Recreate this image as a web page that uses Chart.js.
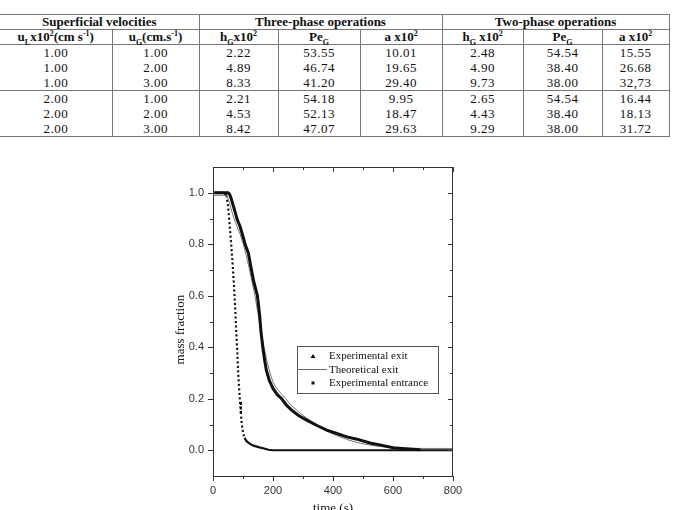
<!DOCTYPE html>
<html>
<head>
<meta charset="utf-8">
<script src="https://cdn.jsdelivr.net/npm/chart.js@4.4.0/dist/chart.umd.min.js"></script>
<style>
  html, body { margin: 0; padding: 0; background: #fff; width: 675px; height: 510px; overflow: hidden; }
  #tbl {
    position: absolute; left: 0; top: 14px; width: 669px;
    border-collapse: collapse; table-layout: fixed;
    font-family: "Liberation Serif", "Times New Roman", serif; font-size: 13px; color: #111;
  }
  #tbl th, #tbl td { padding: 0; text-align: center; border-right: 1px solid #777; white-space: nowrap; }
  #tbl th { font-weight: bold; height: 14px; line-height: 14px; }
  #tbl td { height: 15px; line-height: 15px; letter-spacing: 0.5px; }
  #tbl tr.top th { border-top: 1px solid #777; border-bottom: 1px solid #777; height: 13px; }
  #tbl tr.sub th { border-bottom: 1px solid #777; }
  #tbl tr.sep td { border-bottom: 1px solid #777; height: 14px; }
  #tbl tr.last td { border-bottom: 1px solid #777; height: 14px; }
  #tbl sub, #tbl sup { font-size: 8px; line-height: 0; }
  #box { position: absolute; left: 150px; top: 150px; width: 330px; height: 370px; }
</style>
</head>
<body>
<table id="tbl">
  <colgroup>
    <col style="width:112px"><col style="width:87px"><col style="width:79px"><col style="width:82px">
    <col style="width:82px"><col style="width:81px"><col style="width:79px"><col style="width:67px">
  </colgroup>
  <thead>
    <tr class="top"><th colspan="2">Superficial velocities</th><th colspan="3">Three-phase operations</th><th colspan="3">Two-phase operations</th></tr>
    <tr class="sub">
      <th>u<sub>L</sub>x10<sup>2</sup>(cm s<sup>-1</sup>)</th><th>u<sub>G</sub>(cm.s<sup>-1</sup>)</th>
      <th>h<sub>G</sub>x10<sup>2</sup></th><th>Pe<sub>G</sub></th><th>a x10<sup>2</sup></th>
      <th>h<sub>G</sub> x10<sup>2</sup></th><th>Pe<sub>G</sub></th><th>a x10<sup>2</sup></th>
    </tr>
  </thead>
  <tbody id="tbody"></tbody>
</table>
<div id="box"><canvas id="massChart"></canvas></div>
<script>
// table values
const uL = ['1.00', '1.00', '1.00', '2.00', '2.00', '2.00'];
const uG = ['1.00', '2.00', '3.00', '1.00', '2.00', '3.00'];
const hG3 = ['2.22', '4.89', '8.33', '2.21', '4.53', '8.42'];
const peG3 = ['53.55', '46.74', '41.20', '54.18', '52.13', '47.07'];
const a3 = ['10.01', '19.65', '29.40', '9.95', '18.47', '29.63'];
const hG2 = ['2.48', '4.90', '9.73', '2.65', '4.43', '9.29'];
const peG2 = ['54.54', '38.40', '38.00', '54.54', '38.40', '38.00'];
const a2 = ['15.55', '26.68', '32,73', '16.44', '18.13', '31.72'];

// chart values
const exitTime = [5, 20, 35, 50, 55, 60, 65, 70, 75, 81, 90, 100, 107, 118, 125, 135, 148, 155, 160, 166, 172, 178, 188, 200, 215, 229, 245, 262, 285, 312, 345, 379, 410, 446, 480, 523, 560, 600, 650, 690];
const exitFrac = [1.0, 1.0, 1.0, 1.0, 0.995, 0.98, 0.96, 0.94, 0.92, 0.895, 0.87, 0.83, 0.80, 0.765, 0.72, 0.66, 0.6, 0.53, 0.46, 0.4, 0.35, 0.31, 0.27, 0.24, 0.215, 0.2, 0.175, 0.156, 0.135, 0.117, 0.097, 0.078, 0.066, 0.052, 0.043, 0.028, 0.02, 0.01, 0.005, 0.002];

const theoTime = [0, 20, 40, 48, 55, 62, 70, 80, 90, 101, 110, 120, 130, 140, 150, 160, 170, 180, 190, 200, 212, 227, 243, 260, 279, 300, 323, 350, 379, 410, 446, 480, 523, 560, 600, 650, 700, 800];
const theoFrac = [0.99, 0.99, 0.99, 0.985, 0.96, 0.93, 0.9, 0.87, 0.84, 0.8, 0.76, 0.71, 0.655, 0.6, 0.53, 0.46, 0.4, 0.345, 0.3, 0.265, 0.24, 0.22, 0.2, 0.175, 0.156, 0.135, 0.117, 0.095, 0.075, 0.058, 0.042, 0.03, 0.02, 0.014, 0.01, 0.008, 0.007, 0.007];

const entTime = [5, 20, 35, 45, 50, 55, 60, 65, 70, 74, 78, 81, 84, 87, 90, 93, 96, 100, 105, 112, 120, 130, 140, 155, 170, 185, 200, 250, 300, 400, 500, 600, 700, 800];
const entFrac = [1.0, 1.0, 1.0, 0.99, 0.95, 0.88, 0.81, 0.73, 0.64, 0.55, 0.45, 0.38, 0.3, 0.24, 0.19, 0.14, 0.1, 0.07, 0.048, 0.035, 0.028, 0.02, 0.016, 0.011, 0.007, 0.002, 0, 0, 0, 0, 0, 0, 0, 0];

const xTicks = [0, 200, 400, 600, 800];
const xMinor = [100, 300, 500, 700];
const yTicks = [0, 0.2, 0.4, 0.6, 0.8, 1.0];
const yMinor = [0.1, 0.3, 0.5, 0.7, 0.9];

// fill the table body
const tbody = document.getElementById('tbody');
uL.forEach((v, i) => {
  const tr = document.createElement('tr');
  if (i === 2) tr.className = 'sep';
  if (i === uL.length - 1) tr.className = 'last';
  [uL[i], uG[i], hG3[i], peG3[i], a3[i], hG2[i], peG2[i], a2[i]].forEach(t => {
    const td = document.createElement('td');
    td.textContent = t;
    tr.appendChild(td);
  });
  tbody.appendChild(tr);
});

function pts(xs, ys) {
  return xs.map((t, i) => ({ x: t, y: ys[i] }));
}

// frame, mirrored ticks and the boxed legend
const framePlugin = {
  id: 'framePlugin',
  afterDatasetsDraw(chart) {
    const { ctx, chartArea: a, scales: { x, y } } = chart;
    ctx.save();
    ctx.strokeStyle = '#333';
    ctx.lineWidth = 1;
    ctx.strokeRect(a.left + 0.5, a.top + 0.5, a.right - a.left - 1, a.bottom - a.top);
    ctx.beginPath();
    const xt = (vals, len) => vals.forEach(v => {
      const p = Math.round(x.getPixelForValue(v)) + 0.5;
      ctx.moveTo(p, a.bottom); ctx.lineTo(p, a.bottom + len);
      ctx.moveTo(p, a.top); ctx.lineTo(p, a.top + len);
    });
    const yt = (vals, len) => vals.forEach(v => {
      const p = Math.round(y.getPixelForValue(v)) + 0.5;
      ctx.moveTo(a.left, p); ctx.lineTo(a.left - len, p);
      ctx.moveTo(a.right, p); ctx.lineTo(a.right - len, p);
    });
    xt(xTicks, 5); xt(xMinor, 3);
    yt(yTicks, 5); yt(yMinor, 3);
    ctx.stroke();

    // legend
    const lx = a.left + 84, ly = a.top + 179, lw = 141, lh = 47;
    ctx.fillStyle = '#fff';
    ctx.fillRect(lx, ly, lw, lh);
    ctx.strokeStyle = '#555';
    ctx.strokeRect(lx + 0.5, ly + 0.5, lw, lh);
    ctx.font = '11px "Liberation Serif", "Times New Roman", serif';
    ctx.textBaseline = 'middle';
    ctx.textAlign = 'left';
    const ds = chart.data.datasets;
    const tx = lx + 32;
    // triangle
    ctx.fillStyle = '#111';
    ctx.beginPath();
    ctx.moveTo(lx + 16, ly + 8); ctx.lineTo(lx + 18.5, ly + 12); ctx.lineTo(lx + 13.5, ly + 12);
    ctx.closePath(); ctx.fill();
    ctx.fillText(ds[0].label, tx, ly + 10);
    // line
    ctx.strokeStyle = '#666';
    ctx.beginPath();
    ctx.moveTo(lx, ly + 23.5); ctx.lineTo(lx + 30, ly + 23.5);
    ctx.stroke();
    ctx.fillText(ds[1].label, tx, ly + 24);
    // square
    ctx.fillRect(lx + 14.5, ly + 35.5, 3, 3);
    ctx.fillText(ds[2].label, tx, ly + 37);
    ctx.restore();
  }
};

const ctx = document.getElementById('massChart').getContext('2d');

const massChart = new Chart(ctx,
  {
    type: 'scatter',
    data:
    {
      datasets:
        [{
          label: 'Experimental exit',
          data: pts(exitTime, exitFrac),
          showLine: true,
          borderColor: '#111',
          backgroundColor: '#111',
          borderWidth: 3,
          pointStyle: 'triangle',
          pointRadius: 1.5,
          pointBorderWidth: 0,
        },
        {
          label: 'Theoretical exit',
          data: pts(theoTime, theoFrac),
          showLine: true,
          borderColor: '#777',
          borderWidth: 1,
          pointRadius: 0,
        },
        {
          label: 'Experimental entrance',
          data: pts(entTime, entFrac),
          showLine: true,
          borderColor: '#111',
          backgroundColor: '#111',
          borderWidth: 2.2,
          pointRadius: 0,
          segment:
          {
            borderDash: c => Math.abs(c.p1.y - c.p0.y) > 2 * Math.abs(c.p1.x - c.p0.x) ? [2, 2.5] : undefined,
          }
        }]
    },
    options:
    {
      responsive: true,
      maintainAspectRatio: false,
      animation: false,
      layout: { padding: { top: 17, right: 27, left: 0, bottom: 0 } },
      scales:
      {
        x:
        {
          type: 'linear',
          min: 0,
          max: 800,
          afterBuildTicks: s => { s.ticks = xTicks.map(v => ({ value: v })); },
          afterFit: s => { s.height = 44; },
          grid: { display: false, drawTicks: false },
          border: { display: false },
          ticks:
          {
            padding: 8,
            maxRotation: 0,
            color: '#333',
            font: { family: '"Liberation Sans", Arial, sans-serif', size: 11 },
          },
          title:
          {
            display: true,
            text: 'time (s)',
            color: '#111',
            padding: { bottom: 4, top: 0 },
            font: { family: '"Liberation Serif", "Times New Roman", serif', size: 13 },
          }
        },
        y:
        {
          min: -0.1,
          max: 1.1,
          afterBuildTicks: s => { s.ticks = yTicks.map(v => ({ value: v })); },
          afterFit: s => { s.width = 63; },
          grid: { display: false, drawTicks: false },
          border: { display: false },
          ticks:
          {
            padding: 9,
            color: '#333',
            callback: v => Number(v).toFixed(1),
            font: { family: '"Liberation Sans", Arial, sans-serif', size: 11 },
          },
          title:
          {
            display: true,
            text: 'mass fraction     ',
            color: '#111',
            padding: { top: 23, bottom: 0 },
            font: { family: '"Liberation Serif", "Times New Roman", serif', size: 13 },
          }
        }
      },
      plugins:
      {
        legend: { display: false },
        tooltip: { enabled: false }
      }
    },
    plugins: [framePlugin]
  });
</script>
</body>
</html>
